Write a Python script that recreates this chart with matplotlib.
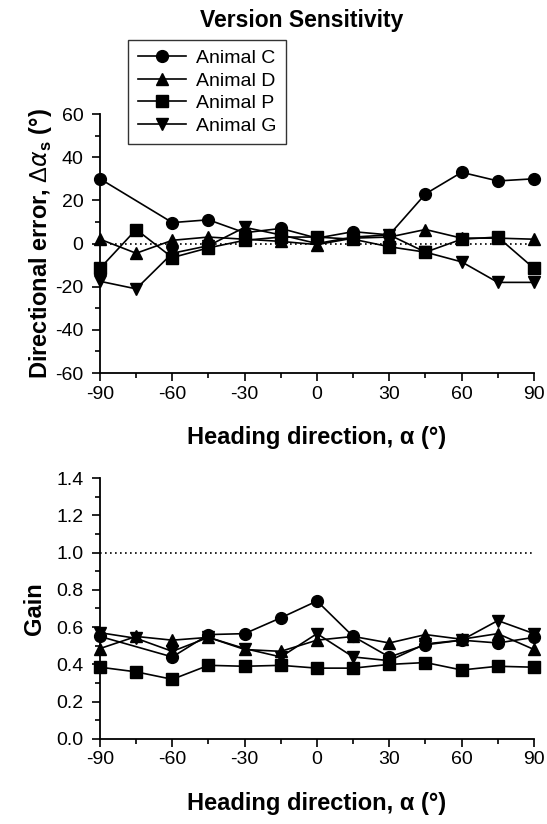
# two-panel version sensitivity plot: directional error and gain

import numpy as np
import matplotlib.pyplot as plt

plt.rcParams['font.family'] = ['Liberation Sans', 'DejaVu Sans']
plt.rcParams['mathtext.fontset'] = 'custom'
plt.rcParams['mathtext.rm'] = 'Liberation Sans'
plt.rcParams['mathtext.bf'] = 'Liberation Sans:bold'
plt.rcParams['axes.unicode_minus'] = False

heading = [-90, -75, -60, -45, -30, -15, 0, 15, 30, 45, 60, 75, 90]
heading_c = [-90, -60, -45, -30, -15, 0, 15, 30, 45, 60, 75, 90]
names = 'Animal C', 'Animal D', 'Animal P', 'Animal G'

# directional error (deg)
err_c = [30, 9.7, 11, 5, 7, 2.5, 5.5, 4, 23, 33, 29, 30]
err_d = [2, -4.5, 1.5, 3, 2, 1, -0.5, 2.5, 3, 6.5, 2.5, 2.5, 2]
err_p = [-11.5, 6.5, -6.5, -2, 1.5, 3, 3, 2, -1.5, -4, 2, 3, -11.5]
err_g = [-17.5, -21, -4.5, -1, 7.5, 4, 0, 3, 4, -4, -8.5, -18, -18]

# gain
gain_c = [0.55, 0.44, 0.56, 0.565, 0.65, 0.74, 0.55, 0.44, 0.505, 0.53, 0.515, 0.545]
gain_d = [0.485, 0.55, 0.53, 0.545, 0.48, 0.47, 0.53, 0.55, 0.515, 0.56, 0.535, 0.565, 0.48]
gain_p = [0.385, 0.36, 0.32, 0.395, 0.39, 0.395, 0.38, 0.38, 0.40, 0.41, 0.37, 0.39, 0.385]
gain_g = [0.57, 0.54, 0.47, 0.545, 0.485, 0.44, 0.565, 0.44, 0.42, 0.51, 0.53, 0.635, 0.565]

markers = 'o', '^', 's', 'v'
msize = 8.5
label_size = 17

fig = plt.figure(figsize=(5.47, 8.24), dpi=100)
ax1 = fig.add_axes([0.1828, 0.5473, 0.7934, 0.3143])
ax2 = fig.add_axes([0.1828, 0.1032, 0.7934, 0.3167])


def style_axes(ax):
    ax.spines['top'].set_visible(False)
    ax.spines['right'].set_visible(False)
    ax.spines['left'].set_linewidth(1.3)
    ax.spines['bottom'].set_linewidth(1.3)
    ax.tick_params(which='major', direction='out', length=6, width=1.2,
                   labelsize=14)
    ax.tick_params(which='minor', direction='out', length=3.5, width=1.2)
    ax.tick_params(axis='y', which='major', pad=6)
    ax.tick_params(axis='x', which='major', pad=3)
    ax.set_xlim(-90, 90)
    ax.set_xticks(np.arange(-90, 91, 30))
    ax.set_xticks(np.arange(-75, 90, 30), minor=True)


# top panel
lines = []
for x, y, m, n in zip([heading_c, heading, heading, heading],
                      [err_c, err_d, err_p, err_g], markers, names):
    ln, = ax1.plot(x, y, color='black', linewidth=1.2, marker=m,
                   markersize=msize, label=n, clip_on=False)
    lines.append(ln)
ax1.axhline(0, color='black', linestyle=(0, (1, 2)), linewidth=1.2)
style_axes(ax1)
ax1.set_ylim(-60, 60)
ax1.set_yticks(np.arange(-60, 61, 20))
ax1.set_yticks(np.arange(-50, 60, 20), minor=True)
ax1.set_xlabel('Heading direction, α (°)', fontsize=label_size,
               fontweight='bold', labelpad=17)
ax1.set_ylabel(r'Directional error, $\Delta\alpha_\mathbf{s}$ (°)',
               fontsize=label_size, fontweight='bold', labelpad=1)

# bottom panel
for x, y, m in zip([heading_c, heading, heading, heading],
                   [gain_c, gain_d, gain_p, gain_g], markers):
    ax2.plot(x, y, color='black', linewidth=1.2, marker=m,
             markersize=msize, clip_on=False)
ax2.axhline(1.0, color='black', linestyle=(0, (1, 2)), linewidth=1.2)
style_axes(ax2)
ax2.set_ylim(0, 1.4)
ax2.set_yticks(np.arange(0, 1.41, 0.2))
ax2.set_yticks(np.arange(0.1, 1.4, 0.2), minor=True)
ax2.set_yticklabels(['%.1f' % v for v in np.arange(0, 1.41, 0.2)])
ax2.set_xlabel('Heading direction, α (°)', fontsize=label_size,
               fontweight='bold', labelpad=17)
ax2.set_ylabel('Gain', fontsize=label_size, fontweight='bold', labelpad=7)

fig.text(0.551, 0.975, 'Version Sensitivity', ha='center', va='center',
         fontsize=16.5, fontweight='bold')
leg = fig.legend(handles=lines, loc='upper left',
                 bbox_to_anchor=(0.234, 0.9515), fontsize=14,
                 handlelength=2.5, frameon=True, fancybox=False,
                 borderpad=0.5, labelspacing=0.25, handletextpad=0.5,
                 borderaxespad=0)
leg.get_frame().set_edgecolor('black')
leg.get_frame().set_linewidth(1.0)

plt.savefig('out.png', dpi=100)
